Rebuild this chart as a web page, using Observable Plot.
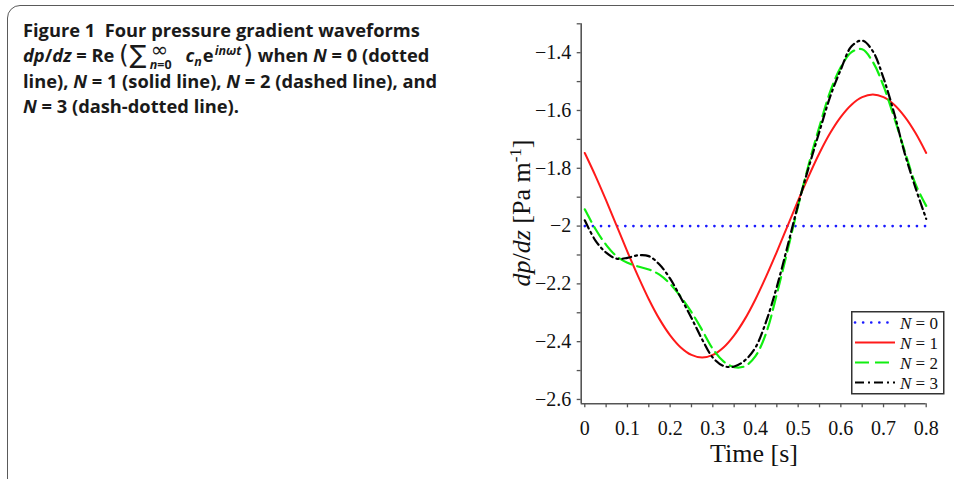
<!DOCTYPE html>
<html>
<head>
<meta charset="utf-8">
<script src="https://cdn.jsdelivr.net/npm/d3@7"></script>
<script src="https://cdn.jsdelivr.net/npm/@observablehq/plot@0.6"></script>
<style>
  html, body { margin: 0; padding: 0; background: #fff; }
  #page { position: relative; width: 954px; height: 479px; overflow: hidden; background: #fff; }
  #frame { position: absolute; left: 7px; top: 5px; width: 1000px; height: 600px; border: 1.4px solid #5a5a5a; border-radius: 13px; box-sizing: border-box; }
  #cap { position: absolute; left: 23px; top: 17px; font-family: "Open Sans", sans-serif; font-weight: bold; font-size: 18.3px; line-height: 25.3px; color: #1a1a1a; white-space: nowrap; }
  #cap .l { height: 25.3px; }
  .par { font-family: "DejaVu Sans", sans-serif; font-size: 25px; font-weight: normal; position: relative; top: 1px; line-height: 0; }
  .sig { font-family: "DejaVu Sans", sans-serif; font-size: 25px; font-weight: normal; position: relative; top: 1px; line-height: 0; margin-left: 1px; }
  .lim { display: inline-block; position: relative; width: 28px; height: 10px; margin-left: 3px; }
  .lim .a { position: absolute; left: 1px; top: -9px; font-family: "DejaVu Sans", sans-serif; font-size: 21px; font-weight: normal; line-height: 14px; height: 14px; }
  .lim .b { position: absolute; left: 0px; top: 7px; font-size: 12.5px; line-height: 12px; height: 12px; }
  .cn { margin-left: 3px; }
  .sub { font-size: 12.5px; position: relative; top: 4px; line-height: 0; margin-right: 1px; }
  .sup { font-size: 12.5px; position: relative; top: -7px; line-height: 0; margin-left: 1px; margin-right: 2px; }
  #chart { position: absolute; left: 490px; top: 0px; }
  #legend { position: absolute; left: 851px; top: 311px; }
</style>
</head>
<body>
<div id="page">
  <div id="frame"></div>
  <div id="cap">
    <div class="l">Figure 1&nbsp; Four pressure gradient waveforms</div>
    <div class="l"><i>dp</i>/<i>dz</i> = Re <span class="par">(</span><span class="sig">∑</span><span class="lim"><span class="a">∞</span><span class="b"><i>n</i>=0</span></span> <i class="cn">c</i><span class="sub"><i>n</i></span>e<span class="sup"><i>inωt</i></span><span class="par">)</span> when <i>N</i> = 0 (dotted</div>
    <div class="l">line), <i>N</i> = 1 (solid line), <i>N</i> = 2 (dashed line), and</div>
    <div class="l"><i>N</i> = 3 (dash-dotted line).</div>
  </div>
  <div id="chart"></div>
  <div id="legend"></div>
</div>
<script>
// ---- data ----
const times = [0,0.025,0.05,0.075,0.1,0.125,0.15,0.175,0.2,0.225,0.25,0.275,0.3,0.325,0.35,0.375,0.4,0.425,0.45,0.475,0.5,0.525,0.55,0.575,0.6,0.625,0.65,0.675,0.7,0.725,0.75,0.775,0.8];
const n0Times = [0, 0.8];
const n0Values = [-2, -2];
const n1Values = [-1.747,-1.826,-1.911,-2.000,-2.089,-2.174,-2.253,-2.322,-2.378,-2.420,-2.446,-2.455,-2.446,-2.420,-2.378,-2.322,-2.253,-2.174,-2.089,-2.000,-1.911,-1.826,-1.747,-1.678,-1.622,-1.580,-1.554,-1.545,-1.554,-1.580,-1.622,-1.678,-1.747];
const n2Values = [-1.942,-2.010,-2.065,-2.105,-2.127,-2.140,-2.150,-2.168,-2.200,-2.245,-2.298,-2.360,-2.425,-2.468,-2.488,-2.485,-2.450,-2.370,-2.235,-2.085,-1.930,-1.785,-1.655,-1.535,-1.450,-1.398,-1.388,-1.432,-1.515,-1.625,-1.742,-1.855,-1.930];
const n3Values = [-1.980,-2.050,-2.092,-2.113,-2.110,-2.101,-2.104,-2.133,-2.182,-2.248,-2.318,-2.392,-2.455,-2.484,-2.486,-2.465,-2.420,-2.330,-2.210,-2.070,-1.925,-1.795,-1.672,-1.552,-1.458,-1.378,-1.358,-1.395,-1.488,-1.610,-1.750,-1.868,-1.975];
const seriesNames = ["N = 0", "N = 1", "N = 2", "N = 3"];
const xTicks = [0,0.1,0.2,0.3,0.4,0.5,0.6,0.7,0.8];
const xTickLabels = ["0","0.1","0.2","0.3","0.4","0.5","0.6","0.7","0.8"];
const xMinor = [0.05,0.15,0.25,0.35,0.45,0.55,0.65,0.75];
const yTicks = [-2.6,-2.4,-2.2,-2,-1.8,-1.6,-1.4];
const yTickLabels = ["−2.6","−2.4","−2.2","−2","−1.8","−1.6","−1.4"];
const yMinor = [-2.5,-2.3,-2.1,-1.9,-1.7,-1.5,-1.3];
const xDomain = [-0.0084, 0.8];
const yDomain = [-2.615, -1.3];

// ---- styles ----
const styles = [
  {stroke: "#1a1aff", strokeWidth: 2.6, strokeDasharray: "0.1 8", strokeLinecap: "round"},
  {stroke: "#ff1a1a", strokeWidth: 2, strokeDasharray: null},
  {stroke: "#11ee11", strokeWidth: 2.2, strokeDasharray: "14 6"},
  {stroke: "#000000", strokeWidth: 2.2, strokeDasharray: "9 4 2 4"}
];

const rows0 = n0Times.map((t, i) => ({t, v: n0Values[i]}));
const rows1 = times.map((t, i) => ({t, v: n1Values[i]}));
const rows2 = times.map((t, i) => ({t, v: n2Values[i]}));
const rows3 = times.map((t, i) => ({t, v: n3Values[i]}));

const axisColor = "#555";
const font = "'Liberation Serif', 'Times New Roman', serif";

const chart = Plot.plot({
  width: 464,
  height: 479,
  marginLeft: 90.7,
  marginRight: 28.3,
  marginTop: 23.3,
  marginBottom: 75.7,
  style: {fontFamily: font, fontSize: "20px", color: "#111", background: "transparent", overflow: "visible"},
  x: {domain: xDomain},
  y: {domain: yDomain},
  marks: [
    Plot.axisY(yTicks, {tickSize: 4, tickPadding: 6, tickFormat: (d, i) => yTickLabels[i], label: null, stroke: axisColor, strokeWidth: 1.3, fontSize: 20}),
    Plot.axisY(yMinor, {tickSize: 4, text: null, label: null, stroke: axisColor, strokeWidth: 1.3}),
    Plot.axisX(xTicks, {tickSize: 4, tickPadding: 13, tickFormat: (d, i) => xTickLabels[i], label: null, stroke: axisColor, strokeWidth: 1.3, fontSize: 20}),
    Plot.axisX(xMinor, {tickSize: 4, text: null, label: null, stroke: axisColor, strokeWidth: 1.3}),
    Plot.ruleX([xDomain[0]], {y1: yDomain[0], y2: yDomain[1], stroke: axisColor, strokeWidth: 1.6}),
    Plot.ruleY([yDomain[0]], {x1: xDomain[0], x2: xDomain[1], stroke: axisColor, strokeWidth: 1.6}),
    Plot.line(rows0, {x: "t", y: "v", ...styles[0]}),
    Plot.line(rows1, {x: "t", y: "v", curve: "catmull-rom", ...styles[1]}),
    Plot.line(rows2, {x: "t", y: "v", curve: "catmull-rom", ...styles[2]}),
    Plot.line(rows3, {x: "t", y: "v", curve: "catmull-rom", ...styles[3]})
  ]
});
document.getElementById("chart").appendChild(chart);

// axis titles
const svg = d3.select(chart);
svg.append("text")
  .attr("x", 264).attr("y", 462)
  .attr("text-anchor", "middle")
  .attr("font-family", font).attr("font-size", 26).attr("fill", "#111")
  .text("Time [s]");
const yl = svg.append("text")
  .attr("transform", "translate(40,213) rotate(-90)")
  .attr("text-anchor", "middle")
  .attr("font-family", font).attr("font-size", 26).attr("fill", "#111");
yl.append("tspan").attr("font-style", "italic").text("dp");
yl.append("tspan").text("/");
yl.append("tspan").attr("font-style", "italic").text("dz");
yl.append("tspan").text(" [Pa m");
yl.append("tspan").attr("font-size", 17).attr("dy", "-0.55em").text("-1");
yl.append("tspan").attr("dy", "0.36em").text("]");

// legend
const lg = d3.select("#legend").append("svg").attr("width", 94).attr("height", 84);
lg.append("rect").attr("x", 0.75).attr("y", 0.75).attr("width", 92).attr("height", 82)
  .attr("fill", "#fff").attr("stroke", "#333").attr("stroke-width", 1.5);
seriesNames.forEach((name, i) => {
  const y = 11.5 + i * 20;
  const s = styles[i];
  const ln = lg.append("line").attr("x1", 4).attr("x2", 44).attr("y1", y).attr("y2", y)
    .attr("stroke", s.stroke).attr("stroke-width", s.strokeWidth);
  if (s.strokeDasharray) ln.attr("stroke-dasharray", s.strokeDasharray);
  if (s.strokeLinecap) ln.attr("stroke-linecap", s.strokeLinecap);
  const tx = lg.append("text").attr("x", 49).attr("y", y + 6)
    .attr("font-family", font).attr("font-size", 17).attr("fill", "#111");
  const parts = name.split(" = ");
  tx.append("tspan").attr("font-style", "italic").text(parts[0]);
  tx.append("tspan").text(" = " + parts[1]);
});
</script>
</body>
</html>
